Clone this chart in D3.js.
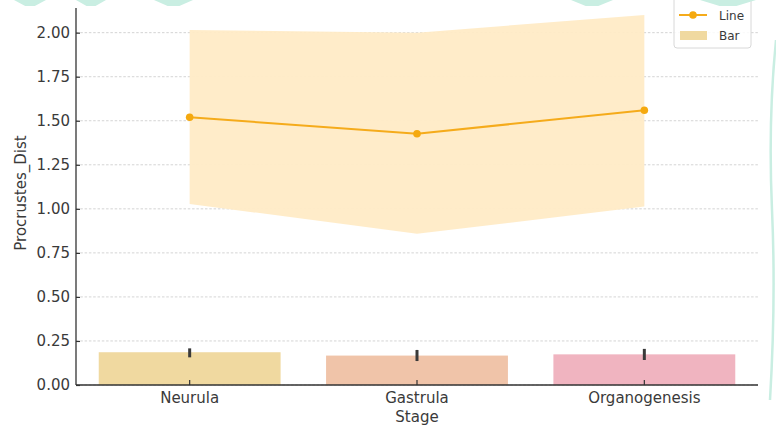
<!DOCTYPE html>
<html>
<head>
<meta charset="utf-8">
<script src="https://cdn.jsdelivr.net/npm/d3@7"></script>
<style>
  html, body { margin: 0; padding: 0; background: #fff; }
  svg { display: block; font-family: "DejaVu Sans", sans-serif; }
</style>
</head>
<body>
<svg id="chart" width="776" height="432"></svg>
<script>
// Procrustes distance by developmental stage
const stages = ["Neurula", "Gastrula", "Organogenesis"];

// bar series (mean with error range)
const barValues = [0.186, 0.167, 0.174];
const barErrLow = [0.157, 0.136, 0.142];
const barErrHigh = [0.208, 0.199, 0.205];
const barColors = ["#f0d9a0", "#f0c4a9", "#f0b4c0"];

// line series (mean with confidence band)
const lineValues = [1.52, 1.426, 1.56];
const bandLow = [1.028, 0.858, 1.013];
const bandHigh = [2.015, 2.0, 2.10];

const yTicks = [0, 0.25, 0.5, 0.75, 1.0, 1.25, 1.5, 1.75, 2.0];
const yMax = 2.14;

const svg = d3.select("#chart");
const plotLeft = 76, plotRight = 758, plotTop = 8, plotBottom = 385;

const x = d3.scaleBand().domain(stages).range([plotLeft, plotRight])
  .paddingInner(0.2).paddingOuter(0.1);
const cx = d => x(d) + x.bandwidth() / 2;
const y = d3.scaleLinear().domain([0, yMax]).range([plotBottom, plotTop]);

// dashed horizontal grid
svg.append("g")
  .selectAll("line").data(yTicks).join("line")
  .attr("x1", plotLeft).attr("x2", plotRight)
  .attr("y1", d => y(d)).attr("y2", d => y(d))
  .attr("stroke", "#cfcfcf").attr("stroke-width", 0.9)
  .attr("stroke-dasharray", "2.5,1.8");

// confidence band around the line
const bandData = stages.map((s, i) => ({ s, lo: bandLow[i], hi: bandHigh[i] }));
svg.append("path")
  .datum(bandData)
  .attr("d", d3.area().x(d => cx(d.s)).y0(d => y(d.lo)).y1(d => y(d.hi)))
  .attr("fill", "#ffebc6").attr("opacity", 0.95);

// bars
svg.append("g").selectAll("rect").data(stages).join("rect")
  .attr("x", d => x(d)).attr("width", x.bandwidth())
  .attr("y", (d, i) => y(barValues[i]))
  .attr("height", (d, i) => y(0) - y(barValues[i]))
  .attr("fill", (d, i) => barColors[i]);

// error bars
svg.append("g").selectAll("line").data(stages).join("line")
  .attr("x1", d => cx(d)).attr("x2", d => cx(d))
  .attr("y1", (d, i) => y(barErrLow[i])).attr("y2", (d, i) => y(barErrHigh[i]))
  .attr("stroke", "#3a3a3a").attr("stroke-width", 3);

// line with markers
const lineData = stages.map((s, i) => ({ s, v: lineValues[i] }));
svg.append("path").datum(lineData)
  .attr("d", d3.line().x(d => cx(d.s)).y(d => y(d.v)))
  .attr("fill", "none").attr("stroke", "#f5ab1b").attr("stroke-width", 2);
svg.append("g").selectAll("circle").data(lineData).join("circle")
  .attr("cx", d => cx(d.s)).attr("cy", d => y(d.v)).attr("r", 3.8)
  .attr("fill", "#f5a90f");

// axes
const yAxis = d3.axisLeft(y).tickValues(yTicks).tickFormat(d3.format(".2f"))
  .tickSizeInner(-4).tickSizeOuter(0).tickPadding(6);
const gy = svg.append("g").attr("transform", `translate(${plotLeft},0)`).call(yAxis);
gy.select(".domain").attr("stroke", "#333").attr("stroke-width", 1.3)
  .attr("d", `M0,${plotTop}V${plotBottom}`);
gy.selectAll(".tick line").attr("stroke", "#333").attr("stroke-width", 1.2);
gy.selectAll(".tick text").attr("font-size", 15).attr("fill", "#3a3a3a")
  .attr("font-family", "DejaVu Sans");

const xAxis = d3.axisBottom(x).tickSizeInner(-5).tickSizeOuter(0).tickPadding(7.5);
const gx = svg.append("g").attr("transform", `translate(0,${plotBottom})`).call(xAxis);
gx.select(".domain").attr("stroke", "#333").attr("stroke-width", 1.3)
  .attr("d", `M${plotLeft},0H${plotRight}`);
gx.selectAll(".tick line").attr("stroke", "#333").attr("stroke-width", 1.2);
gx.selectAll(".tick text").attr("font-size", 15).attr("fill", "#3a3a3a")
  .attr("font-family", "DejaVu Sans");

// axis titles
svg.append("text").attr("x", (plotLeft + plotRight) / 2).attr("y", 422)
  .attr("text-anchor", "middle").attr("font-size", 15).attr("fill", "#3a3a3a")
  .text("Stage");
svg.append("text").attr("transform", "translate(26,193) rotate(-90)")
  .attr("text-anchor", "middle").attr("font-size", 15).attr("fill", "#3a3a3a")
  .text("Procrustes_Dist");

// legend
const lg = svg.append("g");
lg.append("rect").attr("x", 674).attr("y", -4).attr("width", 77).attr("height", 52)
  .attr("rx", 3).attr("fill", "#fff").attr("fill-opacity", 0.85)
  .attr("stroke", "#d8d8d8").attr("stroke-width", 1);
lg.append("line").attr("x1", 679).attr("x2", 707).attr("y1", 15).attr("y2", 15)
  .attr("stroke", "#f5ab1b").attr("stroke-width", 2);
lg.append("circle").attr("cx", 693).attr("cy", 15).attr("r", 3.8).attr("fill", "#f5a90f");
lg.append("text").attr("x", 719).attr("y", 19.5).attr("font-size", 12)
  .attr("fill", "#3a3a3a").text("Line");
lg.append("rect").attr("x", 680).attr("y", 31).attr("width", 27).attr("height", 9)
  .attr("fill", barColors[0]);
lg.append("text").attr("x", 719).attr("y", 40).attr("font-size", 12)
  .attr("fill", "#3a3a3a").text("Bar");

// mint decorative shapes along the top and right edges
const deco = svg.append("g").attr("fill", "#c9eee2");
const topShapes = [[14, 46], [76, 106], [154, 193], [571, 613], [700, 756]];
deco.selectAll("path.top").data(topShapes).join("path").attr("class", "top")
  .attr("d", d => {
    const w = d[1] - d[0];
    return `M${d[0]},0L${d[1]},0L${d[1] - w * 0.35},6L${d[0] + w * 0.35},6Z`;
  });
svg.append("path")
  .attr("d", "M776,40 Q768,120 772,210 Q776,300 770,400")
  .attr("fill", "none").attr("stroke", "#c9eee2").attr("stroke-width", 2.5);
</script>
</body>
</html>
